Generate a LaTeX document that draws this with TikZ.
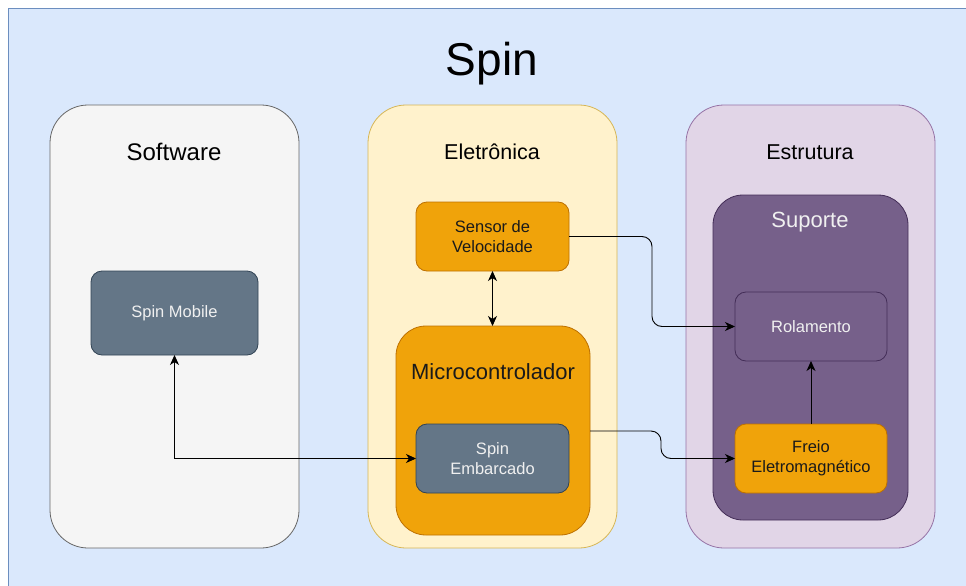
\documentclass[tikz,border=0pt]{standalone}
\usepackage{fontspec}
\setmainfont{Liberation Sans}
\usetikzlibrary{arrows.meta}

\definecolor{bgblue}{HTML}{DAE8FC}
\definecolor{bgbluedraw}{HTML}{6C8EBF}
\definecolor{swfill}{HTML}{F5F5F5}
\definecolor{swdraw}{HTML}{666666}
\definecolor{elfill}{HTML}{FFF2CC}
\definecolor{eldraw}{HTML}{D6B656}
\definecolor{esfill}{HTML}{E1D5E7}
\definecolor{esdraw}{HTML}{9673A6}
\definecolor{orfill}{HTML}{F0A30A}
\definecolor{ordraw}{HTML}{BD7000}
\definecolor{slfill}{HTML}{647687}
\definecolor{sldraw}{HTML}{314354}
\definecolor{pufill}{HTML}{76608A}
\definecolor{pudraw}{HTML}{432D57}
\definecolor{lighttext}{HTML}{F0F0F0}
\definecolor{darktext}{HTML}{1A1A1A}

\tikzset{
  box/.style={draw, line width=0.8pt, inner sep=0pt, outer sep=0pt},
  container/.style={box, rounded corners=38pt, minimum width=249pt, minimum height=443pt},
  block/.style={box, rounded corners=11pt, minimum width=153pt, minimum height=69pt,
    align=center, font=\fontsize{16.5}{20}\selectfont},
  slate/.style={block, fill=slfill, draw=sldraw, text=lighttext},
  amber/.style={block, fill=orfill, draw=ordraw, text=darktext},
  violet/.style={block, fill=pufill, draw=pudraw, text=lighttext},
  heading/.style={inner sep=0pt, font=\fontsize{21.5}{24}\selectfont},
  link/.style={line width=0.9pt, draw=black, rounded corners=10pt},
  arrowtip/.tip={Stealth[length=10pt,width=9pt,inset=3pt]},
  tip/.style={-arrowtip},
}

\begin{document}
\begin{tikzpicture}[x=1pt,y=-1pt]
\useasboundingbox (0,0) rectangle (966,586);

% backdrop
\node[box, fill=bgblue, draw=bgbluedraw, minimum width=970pt, minimum height=590pt, anchor=north west] (spin) at (8,8) {};
\node[inner sep=0pt, font=\fontsize{46}{50}\selectfont] (title) at (492,64) {Spin};

% three containers
\node[container, fill=swfill, draw=swdraw] (sw) at (174.5,326.5) {};
\node[container, fill=elfill, draw=eldraw] (el) at (492.5,326.5) {};
\node[container, fill=esfill, draw=esdraw] (es) at (810.5,326.5) {};

\node[heading, font=\fontsize{24}{26}\selectfont] (swt) at (174,152) {Software};
\node[heading] (elt) at (492,152) {Eletrônica};
\node[heading] (est) at (810,152) {Estrutura};

% software
\node[slate, minimum width=167pt, minimum height=84pt] (mob) at (174.5,313) {Spin Mobile};

% electronics
\node[amber] (sen) at (492.5,236.5) {Sensor de\\Velocidade};
\node[box, fill=orfill, draw=ordraw, rounded corners=30pt, minimum width=194pt, minimum height=209pt] (mic) at (493,430.5) {};
\node[heading, font=\fontsize{22}{24}\selectfont, text=darktext] (mict) at (493,372) {Microcontrolador};
\node[slate] (emb) at (492.5,458.5) {Spin\\Embarcado};

% structure
\node[box, fill=pufill, draw=pudraw, rounded corners=30pt, minimum width=195pt, minimum height=325pt] (sup) at (810.5,357.5) {};
\node[heading, font=\fontsize{22}{24}\selectfont, text=lighttext] (supt) at (810,222.5) {Suporte};
\node[violet, minimum width=152pt] (rol) at (811,326.5) {Rolamento};
\node[amber, minimum width=152pt] (fre) at (811,458.5) {Freio\\Eletromagnético};

% connectors
\coordinate (bend) at (mob.south |- emb.west);
\draw[link, rounded corners=0pt, arrowtip-arrowtip] (mob.south) -- (bend) -- (emb.west);
\draw[link, arrowtip-arrowtip] (sen.south) -- (sen.south |- mic.north);
\draw[link, tip] (sen.east) -- (652,236.5) -- (652,326.5) -- (rol.west);
\draw[link, tip] (mic.east |- 0,431) -- (661,431) -- (661,458.5) -- (fre.west);
\draw[link, tip] (fre.north) -- (rol.south);
\end{tikzpicture}
\end{document}
